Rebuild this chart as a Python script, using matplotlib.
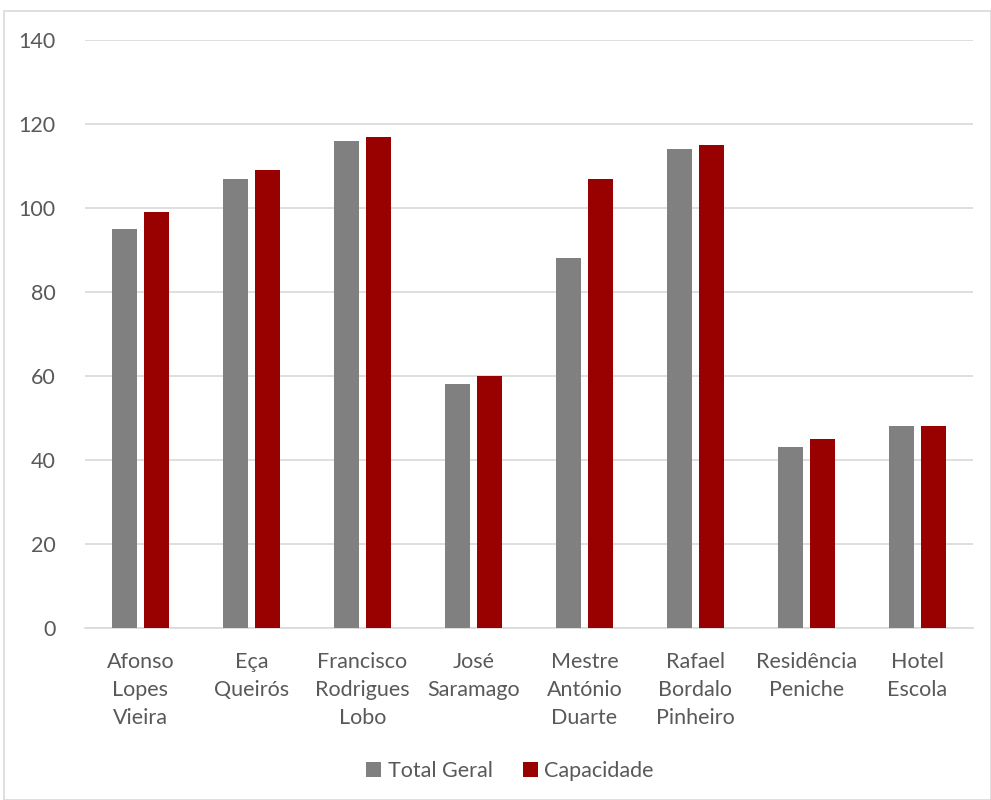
import matplotlib
matplotlib.use("Agg")
import matplotlib.pyplot as plt
from matplotlib.patches import Rectangle
import numpy as np

categories = ["Afonso\nLopes\nVieira", "Eça\nQueirós", "Francisco\nRodrigues\nLobo",
              "José\nSaramago", "Mestre\nAntónio\nDuarte", "Rafael\nBordalo\nPinheiro",
              "Residência\nPeniche", "Hotel\nEscola"]
total_geral = [95, 107, 116, 58, 88, 114, 43, 48]
capacidade = [99, 109, 117, 60, 107, 115, 45, 48]
series_names = ["Total Geral", "Capacidade"]
yticks = [0, 20, 40, 60, 80, 100, 120, 140]

text_color = "#595959"
grid_color = "#D9D9D9"
gray = "#808080"
red = "#990000"
fs = 15.5

plt.rcParams["font.family"] = ["Lato", "DejaVu Sans"]

fig = plt.figure(figsize=(9.91, 8.0), dpi=100)
ax = fig.add_axes([85 / 991, 1 - 628 / 800, 888 / 991, 588 / 800])

x = np.arange(len(categories))
w = 0.225
off = 0.145
ax.bar(x - off, total_geral, width=w, color=gray, label=series_names[0], zorder=3)
ax.bar(x + off, capacidade, width=w, color=red, label=series_names[1], zorder=3)

ax.set_xlim(-0.5, len(categories) - 0.5)
ax.set_ylim(0, 140)
ax.set_yticks(yticks)
ax.set_yticklabels([str(t) for t in yticks], fontsize=fs, color=text_color)
ax.set_xticks(x)
ax.set_xticklabels(categories, fontsize=fs, color=text_color, linespacing=1.5)
ax.tick_params(axis="both", length=0)
ax.tick_params(axis="y", pad=21)
ax.tick_params(axis="x", pad=17)
ax.grid(axis="y", color=grid_color, linewidth=1.2, zorder=0)
for s in ["top", "right", "left"]:
    ax.spines[s].set_visible(False)
ax.spines["bottom"].set_color(grid_color)
ax.spines["bottom"].set_linewidth(1.2)

leg = fig.legend(loc="center", bbox_to_anchor=(510 / 991, 1 - 771 / 800), ncol=2,
                 frameon=False, fontsize=fs, handlelength=0.7, handleheight=0.7,
                 handletextpad=0.3, columnspacing=1.4)
for t in leg.get_texts():
    t.set_color(text_color)

fig.patches.append(Rectangle((4 / 991, 0), 1 - 4 / 991, 1 - 11 / 800,
                             transform=fig.transFigure, fill=False,
                             edgecolor=grid_color, linewidth=1.2))

fig.savefig("out.png", dpi=100, facecolor="white")
